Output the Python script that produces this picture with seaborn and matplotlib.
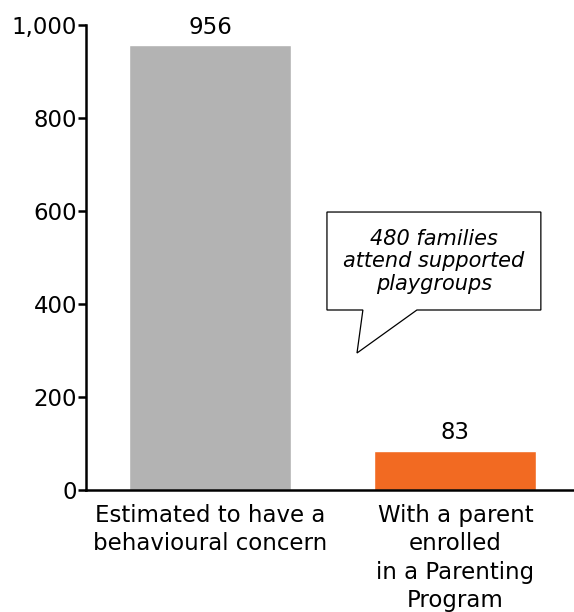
import matplotlib
matplotlib.use("Agg")
import matplotlib.pyplot as plt
import seaborn as sns
import pandas as pd
from matplotlib.patches import Polygon
from matplotlib.ticker import FuncFormatter

categories = ["Estimated to have a\nbehavioural concern",
              "With a parent\nenrolled\nin a Parenting\nProgram"]
values = [956, 83]
colors = ["#B3B3B3", "#F26A22"]
yticks = [0, 200, 400, 600, 800, 1000]
callout_text = "480 families\nattend supported\nplaygroups"

sns.set_style("white")
plt.rcParams["font.family"] = ["DejaVu Sans"]
plt.rcParams["text.color"] = "black"

df = pd.DataFrame({"cat": categories, "val": values})

fig = plt.figure(figsize=(5.74, 6.12), dpi=100)
ax = fig.add_axes([86/574, 122/612, 488/574, 465/612])

sns.barplot(data=df, x="cat", y="val", hue="cat", palette=colors,
            legend=False, width=0.66, ax=ax, saturation=1)

ax.set_ylim(0, 1000)
ax.set_xlim(-0.505, 1.483)
ax.set_yticks(yticks)
ax.yaxis.set_major_formatter(FuncFormatter(lambda v, p: f"{int(v):,}"))
ax.set_xlabel("")
ax.set_ylabel("")

for s in ["top", "right"]:
    ax.spines[s].set_visible(False)
for s in ["left", "bottom"]:
    ax.spines[s].set_linewidth(1.8)
    ax.spines[s].set_color("black")

ax.tick_params(axis="y", length=5.5, width=1.8, direction="out", labelsize=16.5,
               pad=1, left=True, colors="black")
ax.tick_params(axis="x", length=0, labelsize=16.5, pad=10, colors="black")
for lbl in ax.get_xticklabels():
    lbl.set_linespacing(1.3)

for i, v in enumerate(values):
    ax.annotate(f"{v}", xy=(i, v), xytext=(0, 5), textcoords="offset points",
                ha="center", va="bottom", fontsize=16.5, color="black")

# callout box
poly = Polygon([(0.4766, 597.8), (1.348, 597.8), (1.348, 387.1), (0.843, 387.1),
                (0.599, 294.6), (0.623, 387.1), (0.4766, 387.1)],
               closed=True, facecolor="white", edgecolor="black", linewidth=0.9,
               zorder=5)
ax.add_patch(poly)
ax.text(0.912, 492, callout_text, ha="center", va="center", fontsize=15,
        style="italic", linespacing=1.15, zorder=6, color="black")

fig.savefig("out.png", dpi=100)
